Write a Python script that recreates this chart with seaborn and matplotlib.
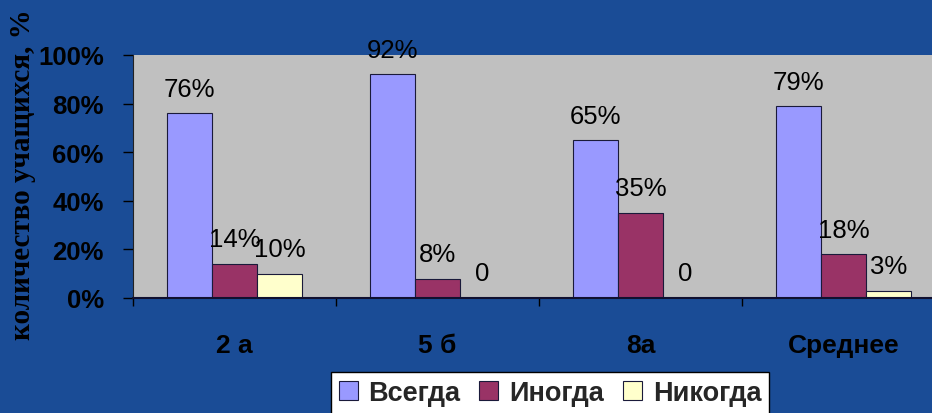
import pandas as pd
import matplotlib.pyplot as plt
import seaborn as sns
from matplotlib.ticker import PercentFormatter, FixedLocator

sns.set_theme(style="ticks")
plt.rcParams["font.family"] = ["Liberation Sans", "DejaVu Sans"]

# Данные с диаграммы
классы = ["2 а", "5 б", "8а", "Среднее"]
всегда = [76, 92, 65, 79]
иногда = [14, 8, 35, 18]
никогда = [10, 0, 0, 3]
ответы = ["Всегда", "Иногда", "Никогда"]
цвета = ["#9999FF", "#993366", "#FFFFCC"]

df = pd.DataFrame({
    "Класс": классы * 3,
    "Ответ": [o for o in ответы for _ in классы],
    "Доля": всегда + иногда + никогда,
})

fig = plt.figure(figsize=(9.32, 4.14), dpi=100)
fig.patch.set_facecolor("#1A4C96")
ax = fig.add_axes([133 / 932, 1 - 299 / 414, 812 / 932, 243 / 414])
ax.set_facecolor("#C0C0C0")

sns.barplot(data=df, x="Класс", y="Доля", hue="Ответ", palette=цвета,
            width=2 / 3, edgecolor="#1a1a3a", linewidth=0.8, saturation=1, ax=ax)

# подписи значений над столбцами
for cont, vals in zip(ax.containers, [всегда, иногда, никогда]):
    labels = [f"{v}%" if v else "0" for v in vals]
    ax.bar_label(cont, labels=labels, padding=9, fontsize=18.5, color="black")

ax.set_xlim(-0.5, 3.5)
ax.set_ylim(0, 100)
ax.set_yticks(range(0, 101, 20))
ax.yaxis.set_major_formatter(PercentFormatter(100, decimals=0))
ax.tick_params(axis="y", length=7, width=1, color="black", pad=14,
               labelsize=18.5, labelcolor="black")
for t in ax.get_yticklabels():
    t.set_fontweight("bold")

ax.xaxis.set_minor_locator(FixedLocator([-0.5, 0.5, 1.5, 2.5]))
ax.tick_params(axis="x", which="major", length=0, pad=25, labelsize=19,
               labelcolor="black")
ax.tick_params(axis="x", which="minor", length=6, width=1, color="black")
for t in ax.get_xticklabels():
    t.set_fontweight("bold")
ax.set_xlabel("")

ax.set_ylabel("количество учащихся, %", family=["Liberation Serif"],
              fontweight="bold", fontsize=21, color="black")
ax.yaxis.set_label_coords(-0.12, 0.51)

for s in ["top", "right"]:
    ax.spines[s].set_visible(False)
ax.spines["left"].set_color("#222222")
ax.spines["left"].set_linewidth(0.8)
ax.spines["bottom"].set_color("#101030")
ax.spines["bottom"].set_linewidth(1.5)

handles, labels = ax.get_legend_handles_labels()
ax.get_legend().remove()
leg = fig.legend(handles, labels, loc="upper center",
                 bbox_to_anchor=(550 / 932, 1 - 373 / 414), ncol=3,
                 frameon=True, fancybox=False, edgecolor="black",
                 facecolor="white", framealpha=1,
                 prop={"weight": "bold", "size": 19.5},
                 handlelength=0.7, handleheight=0.7, handletextpad=0.4,
                 columnspacing=0.7, borderpad=0.3, borderaxespad=0)
leg.get_frame().set_linewidth(1)

fig.savefig("out.png", dpi=100, facecolor=fig.get_facecolor())
